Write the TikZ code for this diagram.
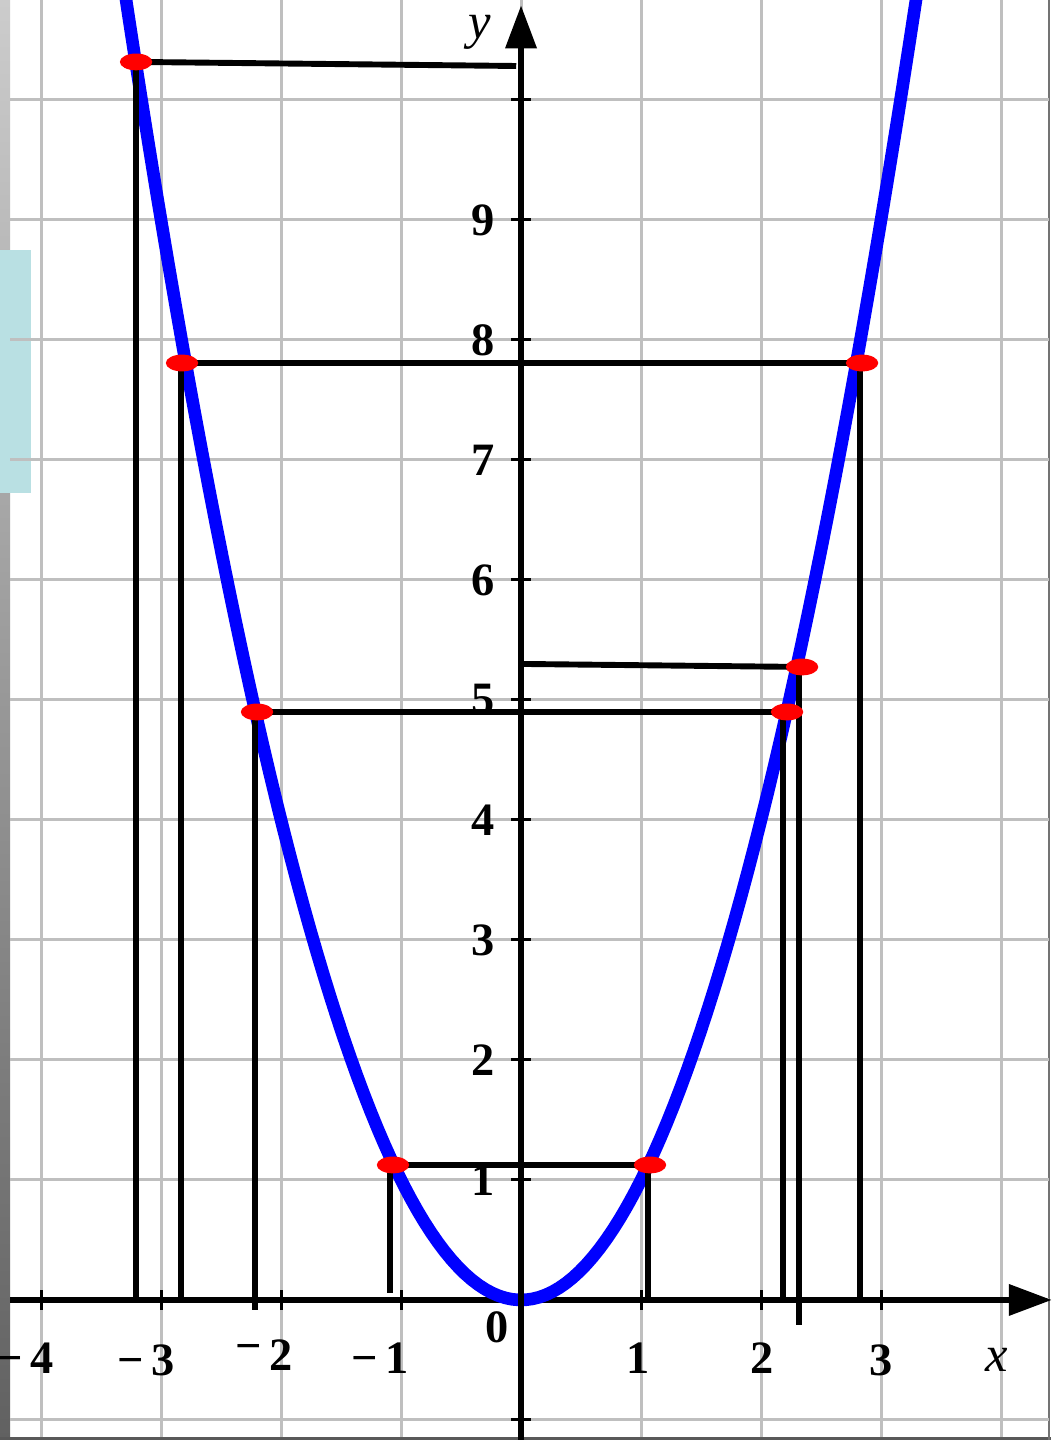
\documentclass[tikz,border=0pt]{standalone}
\usepackage{fontspec}
\setmainfont{Liberation Serif}
\usetikzlibrary{arrows.meta,shapes.geometric}
\definecolor{cyanpanel}{RGB}{185,224,227}

\begin{document}
\begin{tikzpicture}[
  >={Triangle[length=0.36cm,width=0.25cm]},
  gridline/.style={draw=black!25, line width=0.7pt},
  axis/.style={line width=1.6pt},
  tick/.style={line width=0.7pt},
  guide/.style={line width=1.4pt},
  curve/.style={draw=blue, line width=3pt},
  dot/.style={ellipse, fill=red, minimum width=0.27cm, minimum height=0.14cm, inner sep=0pt},
  num/.style={font=\bfseries\fontsize{11}{11}\selectfont, inner sep=0pt},
  axlabel/.style={font=\itshape\fontsize{12}{12}\selectfont, inner sep=0pt}
]
\useasboundingbox (-4.342,-1.167) rectangle (4.417,10.833);
\clip (-4.342,-1.167) rectangle (4.417,10.833);
% frame
\fill[white] (-4.342,-1.167) rectangle (4.417,10.833);
\shade[top color=black!20, bottom color=black!62] (-4.342,-1.167) rectangle (-4.258,10.833);
\fill[cyanpanel] (-4.342,6.725) rectangle (-4.083,8.75);
\fill[black!65] (-4.342,-1.167) rectangle (4.417,-1.142);
\draw[black!55, line width=0.6pt] (4.40,-1.167) -- (4.40,10.833);
% grid
\foreach \gx in {-4,...,4}
  \draw[gridline] (\gx,-1.142) -- (\gx,10.833);
\foreach \gy in {-1,...,10}
  \draw[gridline] (-4.258,\gy) -- (4.40,\gy);
% x axis
\coordinate (xl) at (-4.258,0);
\coordinate (xr) at (4.425,0);
\draw[axis,->] (xl) -- (xr);
\foreach \t in {-4,-3,-2,-1,1,2,3}
  \draw[tick] (\t,-0.08) -- (\t,0.08);
% parabola
\draw[curve] plot[domain=-3.33:3.35, samples=120] (\x,{\x*\x});
% y axis
\coordinate (yb) at (0,-1.167);
\coordinate (yt) at (0,10.79);
\draw[axis,->] (yb) -- (yt);
\foreach \t in {-1,1,2,...,10}
  \draw[tick] (-0.08,\t) -- (0.08,\t);
% points on the curve and their feet on the x axis
\foreach \n/\px/\py/\vx/\by in {1/-3.208/10.317/-3.208/0, 2/-2.825/7.808/-2.833/0.025,
    3/-2.2/4.9/-2.217/-0.083, 4/-1.067/1.125/-1.092/0.058, 5/1.075/1.125/1.058/0.025,
    6/2.217/4.9/2.183/-0.017, 7/2.342/5.275/2.317/-0.208, 8/2.842/7.808/2.825/-0.008}{
  \coordinate (p\n) at (\px,\py);
  \coordinate (f\n) at (\vx,\by);
  \draw[guide] (p\n -| f\n) -- (f\n);
}
\coordinate (a1) at (-0.04,10.283);
\coordinate (a7) at (0.017,5.3);
\draw[guide] (p1) -- (a1);
\draw[guide] (p2) -- (p8);
\draw[guide] (p3) -- (p6);
\draw[guide] (a7) -- (p7);
\draw[guide] (p4) -- (p5);
\foreach \n in {1,...,8}
  \node[dot] (d\n) at (p\n) {};
% labels
\foreach \v in {1,...,9}
  \node[num] (ly\v) at (-0.317,\v) {\v};
\node[num] (lo) at (-0.2,-0.225) {0};
\node[num, anchor=east] (lx4) at (-3.89,-0.483) {−\,4};
\node[num] (lx3) at (-3.125,-0.5) {−\,3};
\node[num] (lx2) at (-2.14,-0.458) {\raisebox{0.07cm}{−}\,2};
\node[num] (lx1) at (-1.175,-0.483) {−\,1};
\node[num] (rx1) at (0.975,-0.483) {1};
\node[num] (rx2) at (2.008,-0.483) {2};
\node[num] (rx3) at (3.0,-0.5) {3};
\node[axlabel] (lx) at (3.967,-0.5) {x};
\node[axlabel] (ly) at (-0.342,10.567) {y};
\end{tikzpicture}
\end{document}
